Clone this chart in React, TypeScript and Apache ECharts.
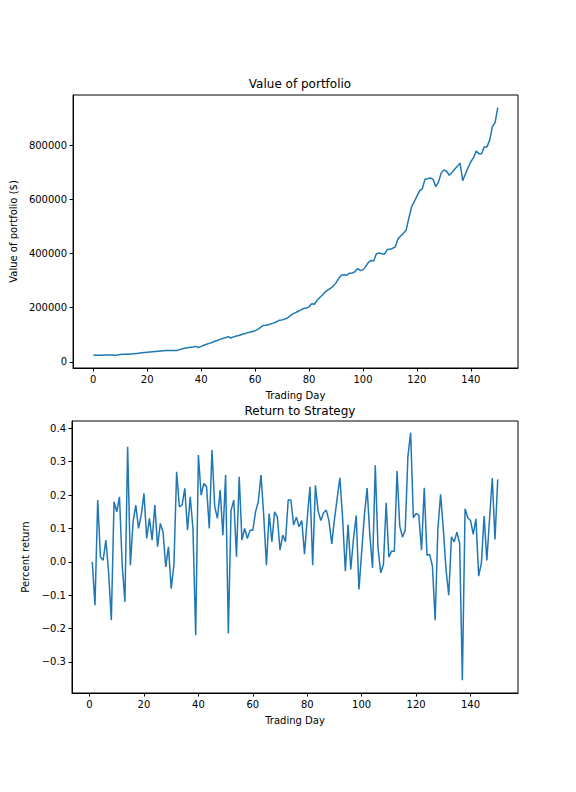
import { useEffect, useRef } from "react";
import * as echarts from "echarts";

// portfolio value, trading days 0..150
const portfolioValue = [
  25000, 24500, 24000, 24500, 25000, 25000, 25000, 25000, 24500, 25500,
  27000, 28000, 28000, 27500, 29000, 30000, 31000, 32000, 33000, 34000,
  35000, 36000, 37000, 38000, 39000, 40000, 41000, 42000, 42000, 42000,
  42000, 42000, 45000, 48000, 50000, 52000, 54000, 55000, 57000, 53000,
  57000, 61000, 65000, 68000, 71000, 76000, 79000, 83000, 86000, 89000,
  93000, 88000, 92000, 95000, 97000, 101000, 104000, 107000, 109000, 112000,
  115000, 120000, 127000, 134000, 135000, 137000, 141000, 144000, 148000, 154000,
  155000, 158000, 162000, 170000, 177000, 182000, 187000, 192000, 197000, 199000,
  203000, 215000, 213000, 228000, 238000, 247000, 258000, 266000, 272000, 280000,
  292000, 308000, 320000, 322000, 320000, 328000, 328000, 333000, 345000, 338000,
  340000, 352000, 368000, 375000, 373000, 400000, 403000, 400000, 398000, 415000,
  416000, 420000, 425000, 455000, 465000, 475000, 487000, 530000, 572000, 592000,
  612000, 632000, 640000, 675000, 677000, 680000, 675000, 648000, 665000, 698000,
  710000, 705000, 690000, 700000, 712000, 723000, 735000, 670000, 695000, 718000,
  740000, 755000, 780000, 770000, 770000, 795000, 795000, 820000, 870000, 885000,
  940000,
];

// percent return, trading days 1..150
const percentReturn = [
  0.0, -0.13, 0.185, 0.015, 0.005, 0.065, -0.03, -0.175, 0.18, 0.15,
  0.195, -0.01, -0.12, 0.345, -0.01, 0.12, 0.17, 0.1, 0.14, 0.205,
  0.07, 0.13, 0.065, 0.17, 0.045, 0.115, 0.09, -0.015, 0.045, -0.08,
  -0.01, 0.27, 0.165, 0.17, 0.22, 0.095, 0.195, 0.1, -0.22, 0.32,
  0.2, 0.235, 0.225, 0.1, 0.335, 0.165, 0.13, 0.215, 0.08, 0.26,
  -0.215, 0.155, 0.185, 0.015, 0.255, 0.065, 0.1, 0.07, 0.095, 0.095,
  0.15, 0.18, 0.26, 0.14, -0.01, 0.145, 0.06, 0.15, 0.135, 0.035,
  0.08, 0.06, 0.185, 0.185, 0.11, 0.134, 0.105, 0.124, 0.023, 0.13,
  0.225, -0.01, 0.229, 0.152, 0.124, 0.147, 0.155, 0.122, 0.054, 0.127,
  0.19, 0.252, 0.13, -0.028, 0.112, -0.023, 0.07, 0.139, -0.083, 0.03,
  0.14, 0.221, 0.08, -0.018, 0.289, 0.042, -0.033, -0.008, 0.177, 0.014,
  0.032, 0.032, 0.272, 0.107, 0.074, 0.095, 0.317, 0.387, 0.132, 0.145,
  0.14, 0.035, 0.222, 0.02, 0.022, -0.013, -0.175, 0.097, 0.202, 0.1,
  -0.023, -0.1, 0.075, 0.06, 0.089, 0.055, -0.355, 0.159, 0.132, 0.124,
  0.082, 0.129, -0.043, -0.003, 0.137, 0.004, 0.13, 0.251, 0.067, 0.247,
];

const dayTicks = [0, 20, 40, 60, 80, 100, 120, 140];
const valueTicks = [0, 200000, 400000, 600000, 800000];
const returnTicks = [-0.3, -0.2, -0.1, 0.0, 0.1, 0.2, 0.3, 0.4];

const font = "DejaVu Sans";
const ink = "#000";

function axisBase(ticks: number[], formatter?: (v: number) => string) {
  return {
    axisLine: { show: true, onZero: false, lineStyle: { color: ink, width: 1 } },
    axisTick: { show: true, inside: false, length: 3.5, lineStyle: { color: ink }, customValues: ticks },
    axisLabel: { color: ink, fontFamily: font, fontSize: 10, margin: 6, customValues: ticks, formatter },
    splitLine: { show: false },
    nameTextStyle: { color: ink, fontFamily: font, fontSize: 10 },
  };
}

export default function App() {
  const ref = useRef<HTMLDivElement | null>(null);

  useEffect(() => {
    if (!ref.current) return;
    const chart = echarts.init(ref.current, null, { renderer: "svg" });
    chart.setOption({
      animation: false,
      backgroundColor: "#fff",
      title: [
        { text: "Value of portfolio", left: 295, top: 73, textAlign: "center", textStyle: { fontFamily: font, fontSize: 12, fontWeight: "normal", color: ink } },
        { text: "Return to Strategy", left: 295, top: 400, textAlign: "center", textStyle: { fontFamily: font, fontSize: 12, fontWeight: "normal", color: ink } },
      ],
      grid: [
        { left: 72, right: 58, top: 95, height: 273, show: true, borderColor: ink, borderWidth: 1 },
        { left: 72, right: 58, top: 421, height: 272, show: true, borderColor: ink, borderWidth: 1 },
      ],
      xAxis: [
        {
          type: "value", gridIndex: 0, min: -7.5, max: 157.5, name: "Trading Day",
          nameLocation: "middle", nameGap: 22, ...axisBase(dayTicks),
        },
        {
          type: "value", gridIndex: 1, min: -6.45, max: 157.45, name: "Trading Day",
          nameLocation: "middle", nameGap: 22, ...axisBase(dayTicks),
        },
      ],
      yAxis: [
        {
          type: "value", gridIndex: 0, min: -23000, max: 987000, name: "Value of portfolio ($)",
          nameLocation: "middle", nameGap: 52, ...axisBase(valueTicks, (v: number) => String(v)),
        },
        {
          type: "value", gridIndex: 1, min: -0.393, max: 0.422, name: "Percent return",
          nameLocation: "middle", nameGap: 40,
          ...axisBase(returnTicks, (v: number) => v.toFixed(1).replace("-", "\u2212")),
        },
      ],
      series: [
        {
          type: "line", xAxisIndex: 0, yAxisIndex: 0, showSymbol: false,
          data: portfolioValue.map((v, i) => [i, v]),
          lineStyle: { color: "#1f77b4", width: 1.5 },
        },
        {
          type: "line", xAxisIndex: 1, yAxisIndex: 1, showSymbol: false,
          data: percentReturn.map((v, i) => [i + 1, v]),
          lineStyle: { color: "#1f77b4", width: 1.5 },
        },
      ],
    });
    return () => chart.dispose();
  }, []);

  return <div ref={ref} style={{ position: "fixed", left: 0, top: 0, width: 576, height: 792 }} />;
}
